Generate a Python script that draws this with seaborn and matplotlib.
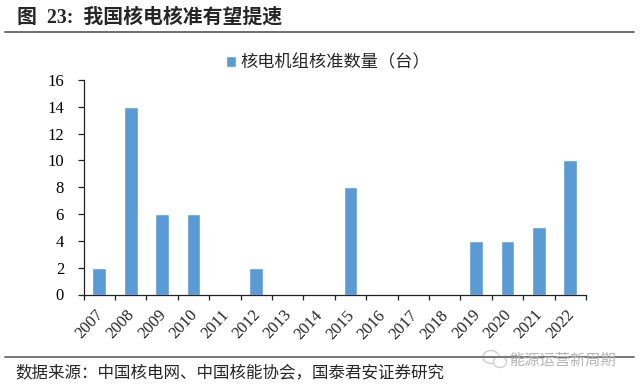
import matplotlib
matplotlib.use("Agg")
import matplotlib.pyplot as plt
from matplotlib.patches import Ellipse
from matplotlib.transforms import ScaledTranslation
import pandas as pd
import seaborn as sns

anos = ["2007", "2008", "2009", "2010", "2011", "2012", "2013", "2014",
        "2015", "2016", "2017", "2018", "2019", "2020", "2021", "2022"]
aprovados = [2, 14, 6, 6, 0, 2, 0, 0, 8, 0, 0, 0, 4, 4, 5, 10]
yticks = [0, 2, 4, 6, 8, 10, 12, 14, 16]

titulo = "图  23:  我国核电核准有望提速"
legenda = "核电机组核准数量（台）"
fonte = "数据来源：中国核电网、中国核能协会，国泰君安证券研究"
marca = "能源运营新周期"

sns.set_style("white")
plt.rcParams["font.family"] = ["Liberation Serif", "Noto Sans CJK SC"]

W, H = 640, 388
df = pd.DataFrame({"ano": anos, "n": aprovados})

fig = plt.figure(figsize=(6.4, 3.88), dpi=100)
ax = fig.add_axes([83.5 / W, 1 - 294.5 / H, (586 - 83.5) / W, (294.5 - 80) / H])

sns.barplot(data=df, x="ano", y="n", color="#5B9BD5", saturation=1, width=0.44,
            ax=ax, label=legenda)

ax.set_xlim(-0.5, 15.5)
ax.set_ylim(0, 16)
ax.set_xlabel("")
ax.set_ylabel("")
ax.set_yticks(yticks)
ax.tick_params(axis="y", labelsize=12, length=4, width=0.9, color="#222222",
               left=True, direction="out", pad=10, labelcolor="black")

# os ticks do eixo x ficam nas divisas das categorias
ax.set_xticks([i - 0.5 for i in range(17)], minor=True)
ax.tick_params(axis="x", which="minor", length=3.5, width=0.9, color="#222222",
               bottom=True, direction="out")
ax.set_xticks(range(16))
ax.set_xticklabels(anos, rotation=47, ha="right", rotation_mode="anchor",
                   fontsize=12)
ax.tick_params(axis="x", which="major", length=0, pad=9)

# puxa os rotulos um pouco para a esquerda
desloca = ScaledTranslation(-4.5 / 100, 0, fig.dpi_scale_trans)
for rotulo in ax.get_xticklabels():
    rotulo.set_transform(rotulo.get_transform() + desloca)

sns.despine(ax=ax)
for lado in ["left", "bottom"]:
    ax.spines[lado].set_linewidth(0.9)
    ax.spines[lado].set_color("#222222")

ax.legend(loc="center", bbox_to_anchor=((328 - 83.5) / (586 - 83.5), 1 + 17 / 214.5),
          frameon=False, prop={"size": 12.4}, handlelength=0.6, handleheight=0.6,
          handletextpad=0.25, borderpad=0)

# titulo, fonte e linhas separadoras
fig.text(17 / W, 1 - 18 / H, titulo, fontsize=14.3, fontweight="bold", va="center", ha="left")
fig.add_artist(plt.Line2D([5 / W, 634 / W], [1 - 32 / H] * 2, color="#555555", lw=1.2))
fig.add_artist(plt.Line2D([5 / W, 634 / W], [1 - 356.5 / H] * 2, color="#777777", lw=1.4))
fig.text(15 / W, 1 - 373 / H, fonte, fontsize=11.9, va="center", ha="left")

# marca d'agua com o iconezinho
for cx, cy, rx, ry in [(491, 357, 8, 6.5), (500, 362, 6.5, 5.5)]:
    fig.add_artist(Ellipse((cx / W, 1 - cy / H), 2 * rx / W, 2 * ry / H, facecolor="white",
                           edgecolor="#cfcfcf", lw=1, transform=fig.transFigure))
fig.text(509 / W, 1 - 360 / H, marca, fontsize=11, color="#b5b5b5", va="center", ha="left",
         family=["Noto Sans CJK SC", "DejaVu Sans"])

fig.savefig("out.png", dpi=100)
